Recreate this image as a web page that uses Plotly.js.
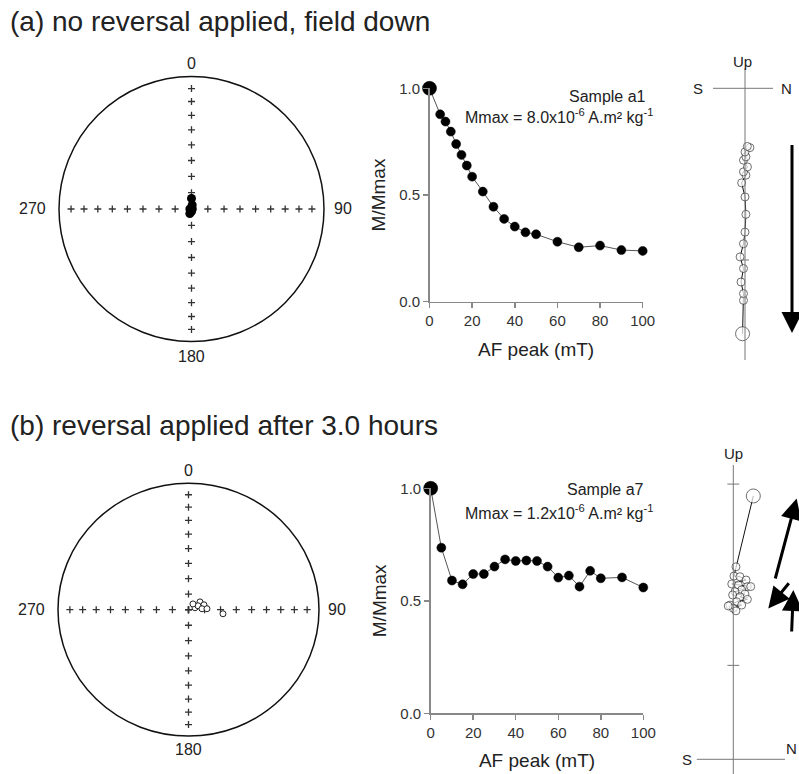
<!DOCTYPE html>
<html><head><meta charset="utf-8">
<script src="https://cdn.plot.ly/plotly-3.0.1.min.js"></script>
<style>html,body{margin:0;padding:0;background:#fff}#c{width:799px;height:774px}</style>
</head><body><div id="c"></div>
<script>
// ---- data ----
// (a) stereonet: declination / inclination (down = filled)
const stereoDecA = [0, 10, 180, 90, 270, 200];
const stereoIncA = [83.5, 87.5, 88.5, 89.5, 89, 87];
// (b) stereonet (up = open)
const stereoDecB = [73, 55, 72, 67, 86, 37, 87, 97];
const stereoIncB = [-85.8, -81.3, -79.9, -83.6, -81.6, -85.4, -78.5, -68.3];

// AF demagnetisation curves
const afStepsA = [0,5,7.5,10,12.5,15,17.5,20,25,30,35,40,45,50,60,70,80,90,100];
const mA = [1.0,0.878,0.844,0.797,0.739,0.688,0.638,0.586,0.516,0.445,0.388,0.352,0.325,0.316,0.281,0.255,0.263,0.242,0.238];
const afStepsB = [0,5,10,15,20,25,30,35,40,45,50,55,60,65,70,75,80,90,100];
const mB = [1.0,0.736,0.59,0.573,0.619,0.619,0.652,0.684,0.677,0.679,0.677,0.652,0.603,0.612,0.563,0.633,0.6,0.604,0.559];

// Zijderveld (vertical projection: N vs Up), units 1e-6 A m2 kg-1
const zijNA  = [-0.08,-0.05,-0.05,-0.13,-0.05,-0.16,-0.05,0,0.03,0,-0.11,0.03,-0.05,0.08,-0.05,0.03,0,0.16,0.075];
const zijUpA = [-8.02,-6.93,-6.71,-6.33,-5.89,-5.51,-5.08,-4.70,-4.12,-3.55,-3.09,-2.84,-2.73,-2.57,-2.35,-2.24,-2.08,-1.94,-1.90];
const zijNB  = [0.091,0.012,0.003,0.03,0.058,-0.007,0.023,0.064,0.079,0.038,0.008,-0.003,0.053,0.03,0.064,0.015,-0.015,0.038,0,-0.023,0.012];
const zijUpB = [1.197,0.875,0.833,0.83,0.815,0.797,0.792,0.785,0.785,0.77,0.762,0.747,0.751,0.739,0.727,0.716,0.701,0.701,0.686,0.697,0.675];

const tickIncs = [10,20,30,40,50,60,70,80,90];
const tickDecs = [0,90,180,270];

// ---- helpers ----
const W=799,H=774;
const px=v=>v/W, py=v=>1-v/H;
function proj(dec,inc){const r=Math.SQRT2*Math.sin((90-Math.abs(inc))*Math.PI/360);
  return [r*Math.sin(dec*Math.PI/180), r*Math.cos(dec*Math.PI/180)];}
function projAll(decs,incs){const xs=[],ys=[];decs.forEach((d,i)=>{const p=proj(d,incs[i]);xs.push(p[0]);ys.push(p[1]);});return [xs,ys];}
const tx=[],ty=[];
tickDecs.forEach(d=>tickIncs.forEach(i=>{const p=proj(d,i);tx.push(p[0]);ty.push(p[1]);}));

const FONT='Liberation Sans, Arial, sans-serif';
const TXT='#222';
const hidden={visible:true,showgrid:false,zeroline:false,showticklabels:false,ticks:'',showline:false,fixedrange:true};

const traces=[];
function stereo(xa,ya,decs,incs,filled){
  traces.push({x:tx,y:ty,xaxis:xa,yaxis:ya,mode:'markers',type:'scatter',hoverinfo:'skip',
    marker:{symbol:'cross-thin',size:5,line:{width:1.3,color:'#333'}},cliponaxis:false});
  const p=projAll(decs,incs);
  traces.push({x:p[0],y:p[1],xaxis:xa,yaxis:ya,mode:'markers',type:'scatter',cliponaxis:false,
    marker:filled?{size:9,color:'#000',line:{width:0}}:{size:6,color:'#fff',line:{width:1,color:'#222'}}});
}
stereo('x','y',stereoDecA,stereoIncA,true);
stereo('x4','y4',stereoDecB,stereoIncB,false);

function af(xa,ya,xs,ys){
  traces.push({x:xs,y:ys,xaxis:xa,yaxis:ya,mode:'lines+markers',type:'scatter',cliponaxis:false,
    line:{color:'#555',width:1},
    marker:{color:'#000',opacity:1,size:xs.map((v,i)=>i===0?14:9),line:{width:0.5,color:'#000'}}});
}
af('x2','y2',afStepsA,mA);
af('x5','y5',afStepsB,mB);

function zij(xa,ya,xs,ys){
  traces.push({x:xs,y:ys,xaxis:xa,yaxis:ya,mode:'lines+markers',type:'scatter',cliponaxis:false,
    line:{color:'#111',width:1},
    marker:{color:'#fff',size:xs.map((v,i)=>i===0?14:8),line:{width:1,color:'#333'}}});
}
zij('x3','y3',zijNA,zijUpA);
zij('x6','y6',zijNB,zijUpB);

// ---- axes ----
const SR=1.3;
function stereoAxes(cx,cy,r){const h=SR*r;
  return [{...hidden,domain:[px(cx-h),px(cx+h)],range:[-SR,SR]},
          {...hidden,domain:[py(cy+h),py(cy-h)],range:[-SR,SR]}];}
const [sxa,sya]=stereoAxes(191.5,209,132.5);
const [sxb,syb]=stereoAxes(188.5,615,130.5);

function afAxes(x0,x1,y0,y1){
  const common={showgrid:false,zeroline:false,showline:true,linecolor:'#888',linewidth:1.5,
    ticks:'outside',ticklen:5,tickcolor:'#888',tickwidth:1.5,fixedrange:true,
    tickfont:{family:FONT,size:15,color:'#333'}};
  return [{...common,domain:[px(x0),px(x1)],range:[0,100],tickvals:[0,20,40,60,80,100],
            title:{text:'AF peak (mT)',font:{family:FONT,size:19,color:TXT},standoff:14}},
          {...common,domain:[py(y0),py(y1)],range:[0,1],tickvals:[0,0.5,1],tickformat:'.1f',
            title:{text:'M/Mmax',font:{family:FONT,size:19,color:TXT},standoff:8}}];
}
const [axa,aya]=afAxes(429.5,642.7,301.7,88.3);
const [axb,ayb]=afAxes(430.7,643.3,713.3,488.3);

function zijAxes(ox,oy,s,l,r,t,b){
  return [{...hidden,domain:[px(l),px(r)],range:[(l-ox)/s,(r-ox)/s]},
          {...hidden,domain:[py(b),py(t)],range:[(oy-b)/s,(oy-t)/s]}];}
const SA=30.6, SB=220;
const [zxa,zya]=zijAxes(745,88.3,SA,680,799,50,372);
const [zxb,zyb]=zijAxes(733.3,759.3,SB,675,799,440,774);

const ln={color:'#777',width:1};
const shapes=[
  {type:'circle',xref:'x',yref:'y',x0:-1,x1:1,y0:-1,y1:1,line:{color:'#111',width:1.5}},
  {type:'circle',xref:'x4',yref:'y4',x0:-1,x1:1,y0:-1,y1:1,line:{color:'#111',width:1.5}},
  {type:'line',xref:'x3',yref:'y3',x0:-1.046,x1:0.915,y0:0,y1:0,line:ln},
  {type:'line',xref:'x3',yref:'y3',x0:0,x1:0,y0:0.66,y1:-8.88,line:ln},
  {type:'line',xref:'x3',yref:'y3',x0:-0.13,x1:0.13,y0:-5.61,y1:-5.61,line:ln},
  {type:'line',xref:'x6',yref:'y6',x0:-0.166,x1:0.235,y0:0,y1:0,line:ln},
  {type:'line',xref:'x6',yref:'y6',x0:0,x1:0,y0:1.338,y1:-0.07,line:ln},
  {type:'line',xref:'x6',yref:'y6',x0:-0.027,x1:0.027,y0:1.251,y1:1.251,line:ln},
  {type:'line',xref:'x6',yref:'y6',x0:-0.027,x1:0.027,y0:0.427,y1:0.427,line:ln},
];

const ann=[];
function txt(x,y,t,size,opts){ann.push(Object.assign({x,y,text:t,showarrow:false,font:{family:FONT,size,color:TXT}},opts));}
txt(px(8),py(22),'(a) no reversal applied, field down',28,{xref:'paper',yref:'paper',xanchor:'left',yanchor:'middle'});
txt(px(8),py(425),'(b) reversal applied after 3.0 hours',28,{xref:'paper',yref:'paper',xanchor:'left',yanchor:'middle'});
function sLabels(xr,yr){
  txt(0,1.1,'0',16,{xref:xr,yref:yr});
  txt(0,-1.11,'180',16,{xref:xr,yref:yr});
  txt(-1.2,0,'270',16,{xref:xr,yref:yr});
  txt(1.14,0,'90',16,{xref:xr,yref:yr});
}
sLabels('x','y'); sLabels('x4','y4');
txt(px(648),py(86),'Sample a1',16,{xref:'paper',yref:'paper',xanchor:'right'});
txt(px(655),py(104),'Mmax = 8.0x10<sup>-6</sup> A.m² kg<sup>-1</sup>',16,{xref:'paper',yref:'paper',xanchor:'right'});
txt(px(646),py(489),'Sample a7',16,{xref:'paper',yref:'paper',xanchor:'right'});
txt(px(655),py(512),'Mmax = 1.2x10<sup>-6</sup> A.m² kg<sup>-1</sup>',16,{xref:'paper',yref:'paper',xanchor:'right'});
txt(-0.07,0.86,'Up',15,{xref:'x3',yref:'y3'});
txt(-1.54,0,'S',15,{xref:'x3',yref:'y3'});
txt(1.34,0,'N',15,{xref:'x3',yref:'y3'});
txt(0,1.39,'Up',15,{xref:'x6',yref:'y6'});
txt(-0.21,0,'S',15,{xref:'x6',yref:'y6'});
txt(px(799),py(759),'N',15,{xref:'paper',yref:'paper',xanchor:'right'});
function arrow(xr,yr,x,y,axv,ayv){ann.push({xref:xr,yref:yr,axref:xr,ayref:yr,x,y,ax:axv,ay:ayv,text:'',
  showarrow:true,arrowhead:2,arrowsize:1.4,arrowwidth:3,arrowcolor:'#000',standoff:0,startstandoff:0});}
arrow('x3','y3',1.536,-8.0,1.536,-1.80);
arrow('x6','y6',0.288,1.186,0.189,0.815);
arrow('x6','y6',0.159,0.686,0.258,0.807);
arrow('x6','y6',0.273,0.77,0.265,0.574);

const layout={width:W,height:H,margin:{l:0,r:0,t:0,b:0},paper_bgcolor:'#fff',plot_bgcolor:'rgba(0,0,0,0)',
  showlegend:false,font:{family:FONT,color:TXT},
  xaxis:{...sxa,anchor:'y'},yaxis:{...sya,anchor:'x'},
  xaxis2:{...axa,anchor:'y2'},yaxis2:{...aya,anchor:'x2'},
  xaxis3:{...zxa,anchor:'y3'},yaxis3:{...zya,anchor:'x3'},
  xaxis4:{...sxb,anchor:'y4'},yaxis4:{...syb,anchor:'x4'},
  xaxis5:{...axb,anchor:'y5'},yaxis5:{...ayb,anchor:'x5'},
  xaxis6:{...zxb,anchor:'y6'},yaxis6:{...zyb,anchor:'x6'},
  shapes,annotations:ann};
Plotly.newPlot('c',traces,layout,{staticPlot:true,displayModeBar:false});
</script></body></html>
